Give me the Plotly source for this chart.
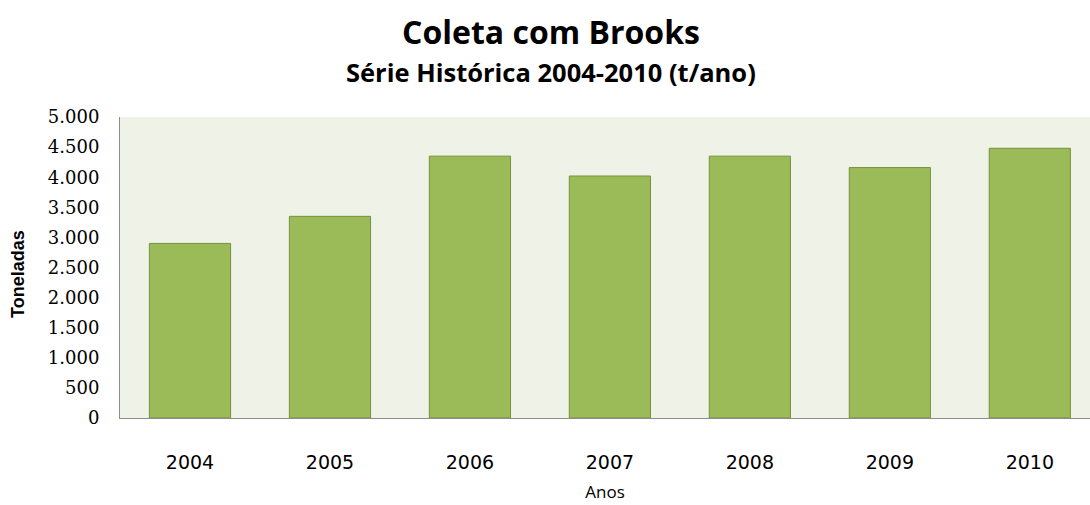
import plotly.graph_objects as go

# Annual collection with Brooks (tonnes per year)
anos = ["2004", "2005", "2006", "2007", "2008", "2009", "2010"]
toneladas = [2900, 3350, 4350, 4020, 4350, 4160, 4480]

y_ticks = [0, 500, 1000, 1500, 2000, 2500, 3000, 3500, 4000, 4500, 5000]

# plot area geometry (pixels)
PLOT_LEFT, PLOT_W = 120, 970
PLOT_TOP, PLOT_H = 117, 301

fig = go.Figure(
    go.Bar(
        x=anos,
        y=toneladas,
        marker=dict(color="#9BBB59", line=dict(color="#76923C", width=1)),
        width=0.58,
    )
)

fig.update_layout(
    width=1090,
    height=505,
    margin=dict(l=PLOT_LEFT, r=0, t=PLOT_TOP, b=505 - PLOT_TOP - PLOT_H),
    paper_bgcolor="white",
    plot_bgcolor="#EEF2E7",
    separators=",.",
    showlegend=False,
    title=dict(
        text="<b>Coleta com Brooks</b>",
        x=551 / 1090,
        xanchor="center",
        y=1 - 33 / 505,
        yanchor="middle",
        font=dict(family="Open Sans", size=32, color="black"),
    ),
    annotations=[
        dict(
            text="<b>Série Histórica 2004-2010 (t/ano)</b>",
            xref="paper", yref="paper",
            x=(551 - PLOT_LEFT) / PLOT_W, y=1 + (PLOT_TOP - 72) / PLOT_H,
            xanchor="center", yanchor="middle",
            showarrow=False,
            font=dict(family="Open Sans", size=25.5, color="black"),
        ),
        dict(
            text="<b>Toneladas</b>",
            textangle=-90,
            xref="paper", yref="paper",
            x=(18 - PLOT_LEFT) / PLOT_W, y=(PLOT_TOP + PLOT_H - 274) / PLOT_H,
            xanchor="center", yanchor="middle",
            showarrow=False,
            font=dict(family="Liberation Sans", size=18, color="black"),
        ),
    ],
    xaxis=dict(
        type="category",
        range=[-0.5, 6.43],
        showline=True,
        linecolor="#8C8C8C",
        linewidth=1,
        showgrid=False,
        ticks="",
        ticklabelstandoff=27,
        tickfont=dict(family="DejaVu Sans", size=19, color="black"),
        title=dict(text="Anos", standoff=14,
                   font=dict(family="Open Sans", size=17, color="black")),
    ),
    yaxis=dict(
        range=[0, 5000],
        tickvals=y_ticks,
        tickformat=",d",
        showline=True,
        linecolor="#8C8C8C",
        linewidth=1,
        showgrid=False,
        zeroline=False,
        ticks="",
        ticklabelstandoff=16,
        tickfont=dict(family="DejaVu Serif", size=18, color="black"),
    ),
)

fig.write_html("out.html")
